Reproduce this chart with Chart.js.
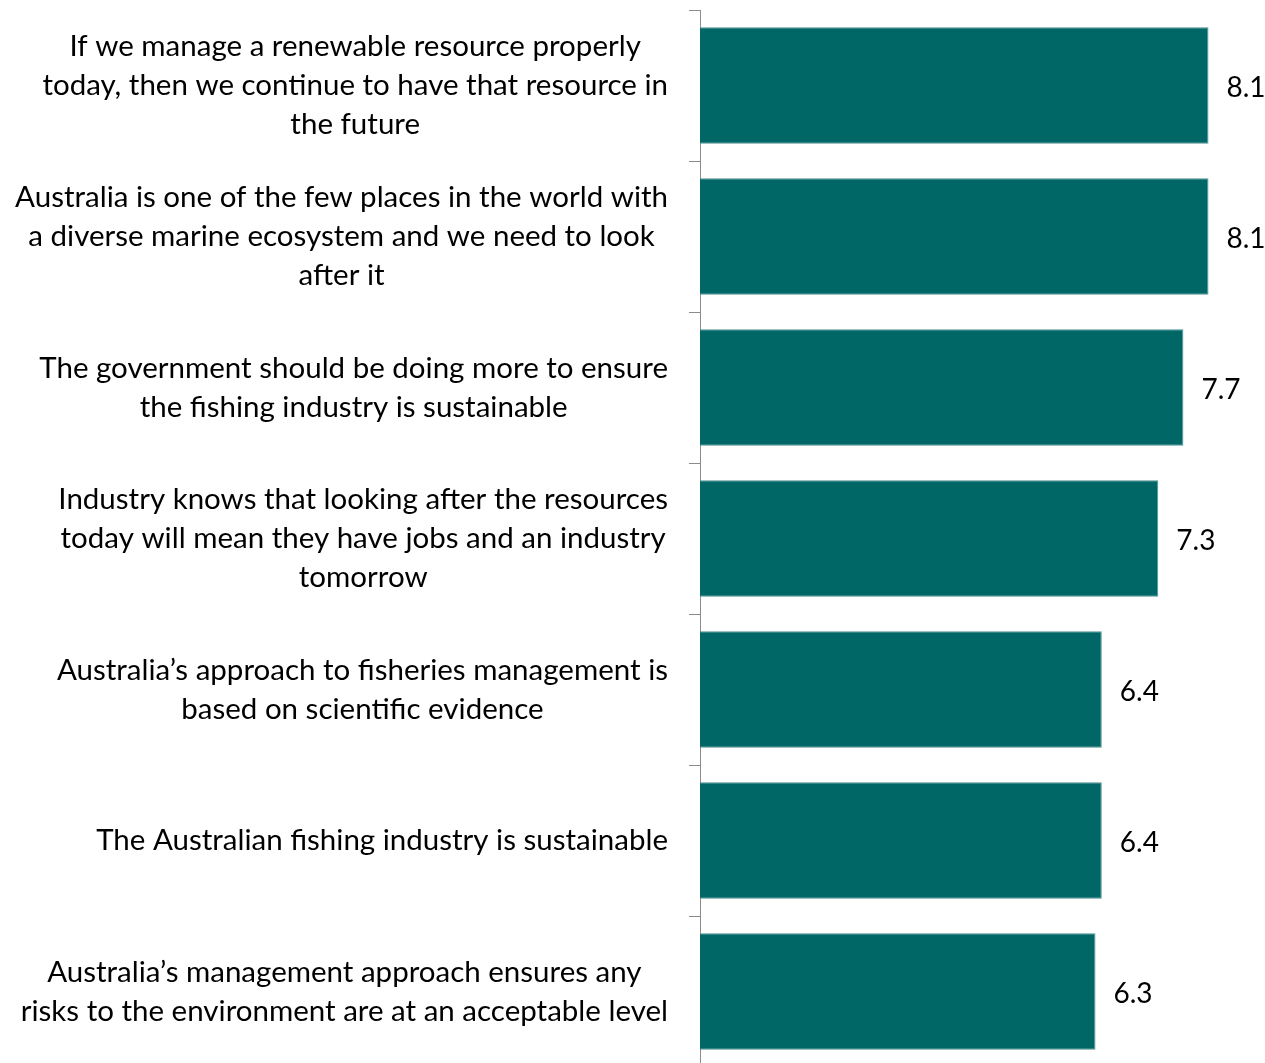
<!DOCTYPE html>
<html>
<head>
<meta charset="utf-8">
<script src="https://cdn.jsdelivr.net/npm/chart.js@4/dist/chart.umd.min.js"></script>
<style>
  html, body { margin: 0; padding: 0; background: #fff; overflow: hidden; }
  #wrap { width: 1265px; height: 1068px; }
</style>
</head>
<body>
<div id="wrap"><canvas id="scoreChart" width="1265" height="1068"></canvas></div>
<script>
"use strict";

// statements, split into the lines they are shown on
var statements = [
    ["If we manage a renewable resource properly", "today, then we continue to have that resource in", "the future"],
    ["Australia is one of the few places in the world with", "a diverse marine ecosystem and we need to look", "after it"],
    ["The government should be doing more to ensure", "the fishing industry is sustainable"],
    ["Industry knows that looking after the resources", "today will mean they have jobs and an industry", "tomorrow"],
    ["Australia\u2019s approach to fisheries management is", "based on scientific evidence"],
    ["The Australian fishing industry is sustainable"],
    ["Australia\u2019s management approach ensures any", "risks to the environment are at an acceptable level"]
];

// mean agreement score
var scores = [8.1, 8.1, 7.7, 7.3, 6.4, 6.4, 6.3];

var FONT = 'Lato, "Open Sans", sans-serif';
var FONT_SIZE = 29.5;
var LINE_H = 39;

// statement text: each block right aligned, lines centred inside the block
var statementLabels = {
    id: 'statementLabels',
    afterDraw: function(chart) {
        var ctx = chart.ctx;
        var yScale = chart.scales.y;
        var meta = chart.getDatasetMeta(0);
        ctx.save();
        ctx.font = FONT_SIZE + 'px ' + FONT;
        ctx.fillStyle = '#000';
        ctx.textBaseline = 'middle';
        ctx.textAlign = 'center';

        for (var i = 0; i < statements.length; i++) {
            var lines = statements[i];
            var maxW = 0;
            for (var j = 0; j < lines.length; j++) {
                maxW = Math.max(maxW, ctx.measureText(lines[j]).width);
            }
            var cx = yScale.right - 32 - maxW / 2;
            var cy = yScale.getPixelForValue(i);
            for (var k = 0; k < lines.length; k++) {
                ctx.fillText(lines[k], cx, cy + (k - (lines.length - 1) / 2) * LINE_H);
            }
        }

        // value next to each bar
        ctx.textAlign = 'left';
        ctx.font = '28px ' + FONT;
        meta.data.forEach(function(bar, idx) {
            ctx.fillText(scores[idx].toFixed(1), bar.x + 18, bar.y + 2);
        });
        ctx.restore();
    }
};

var ctx1 = document.getElementById('scoreChart').getContext('2d');

var scoreChart = new Chart(ctx1, {
    type: 'bar',
    data: {
        labels: statements,
        datasets: [{
            data: scores,
            backgroundColor: '#006766',
            borderColor: '#4e9293',
            borderWidth: 1,
            borderSkipped: 'left',
            categoryPercentage: 0.77,
            barPercentage: 1
        }]
    },
    options: {
        indexAxis: 'y',
        responsive: false,
        animation: false,
        layout: { padding: { top: 10, bottom: 1, left: 0, right: 0 } },
        plugins: {
            legend: { display: false },
            tooltip: { enabled: false }
        },
        scales: {
            x: {
                display: false,
                min: 0,
                max: 9
            },
            y: {
                afterFit: function(scale) { scale.width = 700; },
                ticks: { display: false },
                grid: {
                    offset: true,
                    drawOnChartArea: false,
                    drawTicks: true,
                    tickLength: 11,
                    color: '#8c8c8c'
                },
                border: { display: true, color: '#8c8c8c', width: 1 }
            }
        }
    },
    plugins: [statementLabels]
});
</script>
</body>
</html>
